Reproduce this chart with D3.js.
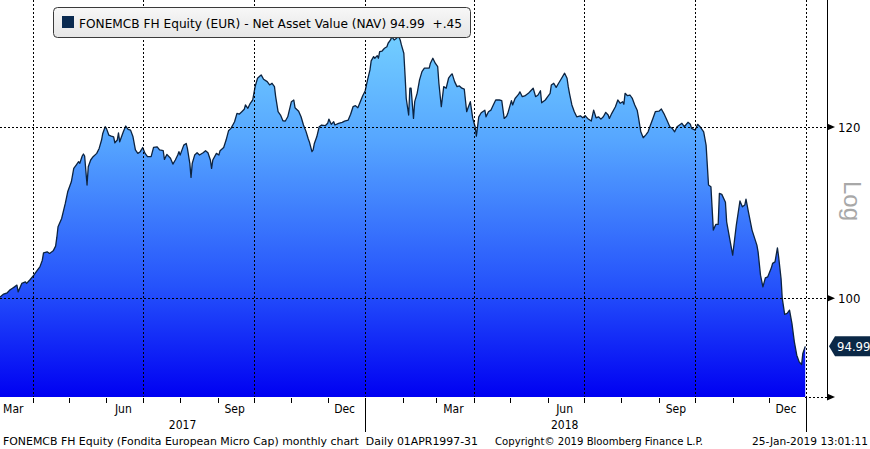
<!DOCTYPE html>
<html><head><meta charset="utf-8">
<script src="https://cdn.jsdelivr.net/npm/d3@7"></script>
<style>
html,body{margin:0;padding:0;background:#fff;}
svg{display:block;}
text{font-family:"DejaVu Sans Condensed","DejaVu Sans",sans-serif;font-stretch:condensed;}
</style></head><body>
<svg id="chart" width="870" height="449"></svg>
<script>
const dates = ["2017-03-05","2017-03-08","2017-03-11","2017-03-13","2017-03-15","2017-03-17","2017-03-19","2017-03-20","2017-03-23","2017-03-26","2017-03-27","2017-03-30",
"2017-04-02","2017-04-03","2017-04-06","2017-04-07","2017-04-09","2017-04-10","2017-04-13","2017-04-15","2017-04-18","2017-04-20","2017-04-21","2017-04-22","2017-04-25","2017-04-28","2017-04-30",
"2017-05-03","2017-05-05","2017-05-07","2017-05-09","2017-05-10","2017-05-12","2017-05-13","2017-05-14","2017-05-16","2017-05-17","2017-05-19","2017-05-21","2017-05-24","2017-05-26","2017-05-28","2017-05-29","2017-05-31",
"2017-06-01","2017-06-03","2017-06-05","2017-06-07","2017-06-08","2017-06-10","2017-06-11","2017-06-12","2017-06-15","2017-06-17","2017-06-19","2017-06-21","2017-06-23","2017-06-25","2017-06-26","2017-06-27","2017-06-29",
"2017-07-01","2017-07-03","2017-07-05","2017-07-08","2017-07-10","2017-07-13","2017-07-15","2017-07-18","2017-07-19","2017-07-21","2017-07-24","2017-07-26","2017-07-28","2017-07-30","2017-07-31",
"2017-08-01","2017-08-04","2017-08-06","2017-08-07","2017-08-09","2017-08-10","2017-08-11","2017-08-13","2017-08-15","2017-08-17","2017-08-20","2017-08-22","2017-08-24","2017-08-26","2017-08-27","2017-08-28","2017-08-31",
"2017-09-02","2017-09-03","2017-09-06","2017-09-08","2017-09-10","2017-09-12","2017-09-14","2017-09-15","2017-09-17","2017-09-19","2017-09-21","2017-09-23","2017-09-24","2017-09-26","2017-09-28","2017-09-30",
"2017-10-02","2017-10-04","2017-10-06","2017-10-07","2017-10-09","2017-10-12","2017-10-14","2017-10-16","2017-10-18","2017-10-19","2017-10-21","2017-10-23","2017-10-25","2017-10-27","2017-10-29",
"2017-11-01","2017-11-03","2017-11-04","2017-11-07","2017-11-09","2017-11-11","2017-11-13","2017-11-15","2017-11-16","2017-11-18","2017-11-19","2017-11-20","2017-11-22","2017-11-24","2017-11-26","2017-11-29",
"2017-12-01","2017-12-02","2017-12-04","2017-12-06","2017-12-07","2017-12-10","2017-12-13","2017-12-15","2017-12-18","2017-12-20","2017-12-22","2017-12-24","2017-12-26","2017-12-28","2017-12-30",
"2018-01-01","2018-01-03","2018-01-05","2018-01-06","2018-01-08","2018-01-09","2018-01-11","2018-01-12","2018-01-13","2018-01-15","2018-01-17","2018-01-19","2018-01-20","2018-01-22","2018-01-23","2018-01-25","2018-01-27","2018-01-28","2018-01-30","2018-01-31",
"2018-02-02","2018-02-03","2018-02-04","2018-02-06","2018-02-07","2018-02-08","2018-02-10","2018-02-11","2018-02-13","2018-02-15","2018-02-17","2018-02-19","2018-02-23","2018-02-24","2018-02-26","2018-02-28",
"2018-03-02","2018-03-03","2018-03-05","2018-03-07","2018-03-09","2018-03-11","2018-03-13","2018-03-14","2018-03-16","2018-03-18","2018-03-20","2018-03-22","2018-03-24","2018-03-26","2018-03-27","2018-03-29","2018-03-31",
"2018-04-02","2018-04-03","2018-04-05","2018-04-07","2018-04-10","2018-04-11","2018-04-13","2018-04-15","2018-04-17","2018-04-19","2018-04-22","2018-04-24","2018-04-26","2018-04-28","2018-04-29",
"2018-05-02","2018-05-03","2018-05-05","2018-05-08","2018-05-09","2018-05-11","2018-05-13","2018-05-16","2018-05-18","2018-05-20","2018-05-22","2018-05-24","2018-05-26","2018-05-27","2018-05-30",
"2018-06-01","2018-06-03","2018-06-04","2018-06-06","2018-06-08","2018-06-10","2018-06-12","2018-06-15","2018-06-17","2018-06-18","2018-06-19","2018-06-21","2018-06-23","2018-06-25","2018-06-28","2018-06-30",
"2018-07-02","2018-07-04","2018-07-07","2018-07-09","2018-07-11","2018-07-13","2018-07-15","2018-07-17","2018-07-19","2018-07-21","2018-07-22","2018-07-24","2018-07-27","2018-07-29","2018-07-31",
"2018-08-02","2018-08-03","2018-08-04","2018-08-06","2018-08-08","2018-08-10","2018-08-12","2018-08-14","2018-08-15","2018-08-17","2018-08-19","2018-08-21","2018-08-23","2018-08-25","2018-08-27","2018-08-29",
"2018-09-01","2018-09-03","2018-09-05","2018-09-07","2018-09-10","2018-09-12","2018-09-14","2018-09-16","2018-09-18","2018-09-20","2018-09-22","2018-09-25","2018-09-27","2018-09-28",
"2018-10-01","2018-10-03","2018-10-05","2018-10-08","2018-10-10","2018-10-11","2018-10-12","2018-10-14","2018-10-16","2018-10-18","2018-10-20","2018-10-21","2018-10-23","2018-10-26","2018-10-27","2018-10-30",
"2018-11-01","2018-11-04","2018-11-07","2018-11-09","2018-11-11","2018-11-12","2018-11-14","2018-11-17","2018-11-21","2018-11-22","2018-11-24","2018-11-26","2018-11-28","2018-11-30",
"2018-12-03","2018-12-04","2018-12-06","2018-12-08","2018-12-09","2018-12-11","2018-12-12","2018-12-14","2018-12-16","2018-12-18","2018-12-20","2018-12-22","2018-12-24","2018-12-26","2018-12-28","2018-12-29","2018-12-31"];
const nav = [100.11,100.43,100.57,100.86,101.04,101.21,101.40,100.67,101.58,101.75,101.58,102.01,
102.48,102.67,103.22,103.39,104.13,104.95,105.06,104.88,105.17,105.70,106.68,107.90,108.87,110.62,112.00,
113.20,114.83,115.24,115.65,115.45,116.35,116.60,116.35,112.81,115.03,115.86,116.27,116.68,117.30,118.35,119.19,120.04,
119.83,118.98,118.85,118.76,118.01,118.35,119.26,118.13,119.39,120.13,119.70,119.61,118.76,117.11,116.89,116.68,116.89,
117.42,116.68,116.27,116.27,117.42,117.50,117.11,117.01,115.94,116.55,116.07,115.36,115.86,116.47,116.89,
116.47,117.71,117.92,117.30,115.45,113.74,115.45,116.47,116.76,116.47,116.76,117.01,116.76,115.86,114.83,115.86,116.68,
116.47,117.01,117.42,118.35,119.52,119.83,120.39,120.68,121.77,121.68,121.98,122.29,122.86,122.42,123.08,123.51,
125.28,126.41,126.72,126.86,126.27,125.95,125.51,125.73,125.28,123.95,121.98,121.55,120.81,120.77,121.32,
123.29,123.51,122.50,122.05,121.32,120.26,119.48,118.48,118.06,116.89,117.11,117.92,118.76,120.04,120.26,120.17,
120.48,121.02,120.35,120.68,120.26,120.48,120.61,120.77,120.90,121.64,122.63,122.76,122.50,123.29,124.08,
124.70,126.18,127.53,128.76,129.35,129.13,129.49,129.13,130.04,130.13,130.51,130.73,131.21,131.67,132.13,131.67,131.91,132.47,131.67,130.98,
129.82,126.86,123.71,121.55,125.07,125.07,121.11,123.29,124.39,126.18,127.30,127.77,127.77,128.45,129.13,128.45,
127.99,125.73,122.63,125.28,125.07,126.41,126.86,127.00,125.95,125.28,125.37,125.07,124.94,121.98,122.42,123.29,121.11,
120.04,118.85,121.32,121.84,122.18,121.32,121.98,122.18,122.86,123.51,123.51,123.43,121.11,121.40,121.77,
123.43,122.86,123.71,124.28,124.59,123.95,124.04,124.39,124.73,125.07,123.95,124.17,124.73,123.15,123.51,
123.95,124.39,125.51,125.73,125.19,125.73,126.27,127.09,126.41,125.28,124.39,122.86,121.98,121.32,121.45,121.19,
121.45,121.11,120.77,122.18,121.19,121.32,121.02,121.32,121.89,121.55,121.11,121.77,122.63,123.51,123.08,
123.29,122.95,124.39,124.08,124.17,123.71,122.86,122.18,121.32,119.39,118.64,118.98,119.39,120.26,121.11,121.98,
122.05,122.33,121.77,121.11,120.04,119.83,119.39,120.04,120.26,120.48,120.04,120.61,120.35,119.83,
119.61,120.35,120.04,119.39,117.71,115.24,112.81,112.61,107.52,108.17,108.17,111.81,111.69,110.76,108.47,106.18,
104.69,108.09,110.91,110.22,110.43,111.12,109.64,107.52,105.81,105.06,102.48,101.21,102.19,102.30,
103.28,103.77,103.94,105.51,104.50,102.12,99.97,98.28,98.38,98.73,97.34,95.45,94.10,93.43,93.17,94.27,94.99];

const yTicks = [100, 120];
const gridDates = ["2017-04-01","2017-07-01","2017-10-01","2018-01-01","2018-04-01","2018-07-01","2018-10-01","2019-01-01"];
const monthLabels = ["Mar","Jun","Sep","Dec","Mar","Jun","Sep","Dec"];
const monthLabelDates = ["2017-03-16","2017-06-15","2017-09-15","2017-12-15","2018-03-15","2018-06-15","2018-09-15","2018-12-15"];
const yearLabels = ["2017","2018"];
const yearLabelDates = ["2017-08-03","2018-06-15"];
const yearBreaks = ["2018-01-01","2019-01-01"];
const lastValue = 94.99;
const lastChange = "+.45";
const legendLabel = "FONEMCB FH Equity (EUR) - Net Asset Value (NAV)";
const footerLeft = "FONEMCB FH Equity (Fondita European Micro Cap) monthly chart  Daily 01APR1997-31";
const footerMid = "Copyright\u00A9 2019 Bloomberg Finance L.P.";
const footerRight = "25-Jan-2019 13:01:11";

const parse = d3.timeParse("%Y-%m-%d");
const data = dates.map((d, i) => ({date: parse(d), v: nav[i]}));

const W = 870, H = 449;
const plotR = 827, plotB = 397;
const svg = d3.select("#chart");

const x = d3.scaleTime().domain([parse("2017-03-05"), parse("2019-01-18")]).range([0, plotR]);
const y = d3.scaleLog().domain([90, 137.4]).range([plotB, 0]);

const defs = svg.append("defs");
const grad = defs.append("linearGradient").attr("id", "areaGrad")
  .attr("gradientUnits", "userSpaceOnUse").attr("x1", 0).attr("y1", 30).attr("x2", 0).attr("y2", plotB);
grad.append("stop").attr("offset", "0%").attr("stop-color", "#74d0ff");
grad.append("stop").attr("offset", "30%").attr("stop-color", "#56a6ff");
grad.append("stop").attr("offset", "70%").attr("stop-color", "#2552fb");
grad.append("stop").attr("offset", "100%").attr("stop-color", "#0000f2");

const lgGrad = defs.append("linearGradient").attr("id", "legGrad").attr("x1", 0).attr("y1", 0).attr("x2", 0).attr("y2", 1);
lgGrad.append("stop").attr("offset", "0%").attr("stop-color", "#f7f7f7");
lgGrad.append("stop").attr("offset", "100%").attr("stop-color", "#e6e6e6");

// area
const area = d3.area().x(d => x(d.date)).y0(y(90)).y1(d => y(d.v));
svg.append("path").datum(data).attr("d", area).attr("fill", "url(#areaGrad)");
const line = d3.line().x(d => x(d.date)).y(d => y(d.v));
svg.append("path").datum(data).attr("d", line).attr("fill", "none")
  .attr("stroke", "#0c2340").attr("stroke-width", 1.3).attr("stroke-linejoin", "round");

// gridlines
const grid = svg.append("g").attr("stroke", "#000").attr("stroke-width", 1).attr("stroke-dasharray", "2,2").attr("shape-rendering", "crispEdges");
yTicks.forEach(t => {
  grid.append("line").attr("x1", 0).attr("x2", plotR).attr("y1", Math.round(y(t)) + 0.5).attr("y2", Math.round(y(t)) + 0.5);
});
grid.append("line").attr("x1", x(data[data.length-1].date)).attr("x2", plotR).attr("y1", plotB + 0.5).attr("y2", plotB + 0.5);
gridDates.forEach(g => {
  const gx = Math.round(x(parse(g))) + 0.5;
  grid.append("line").attr("x1", gx).attr("x2", gx).attr("y1", 0).attr("y2", plotB);
});

// right axis
svg.append("line").attr("x1", plotR + 0.5).attr("x2", plotR + 0.5).attr("y1", 0).attr("y2", plotB + 1)
  .attr("stroke", "#000").attr("stroke-width", 1);
const yAxisG = svg.append("g");
yTicks.concat([90]).forEach(t => {
  const ty = y(t);
  yAxisG.append("path").attr("d", `M${plotR},${ty-3.5} L${plotR+8},${ty} L${plotR},${ty+3.5} Z`).attr("fill", "#000");
});
yTicks.forEach(t => {
  yAxisG.append("text").attr("x", plotR + 11).attr("y", y(t) + 4.5).attr("font-size", 13).attr("fill", "#000").text(t);
});

// last value marker
const ly = y(lastValue);
svg.append("path").attr("d", `M${plotR+2},${ly} L${plotR+8},${ly-10} L870,${ly-10} L870,${ly+10} L${plotR+8},${ly+10} Z`).attr("fill", "#0b2846");
svg.append("text").attr("x", plotR + 10).attr("y", ly + 4.5).attr("font-size", 13).attr("fill", "#fff").text(lastValue.toFixed(2));

// Log label
svg.append("text").attr("transform", `translate(844,201) rotate(90)`).attr("text-anchor", "middle")
  .attr("font-size", 24).attr("fill", "#a8a8a8").style("font-family", "'Liberation Sans',Arial,sans-serif").style("font-stretch", "normal").text("Log");

// x axis ticks
const xAxisG = svg.append("g").attr("transform", `translate(0,${plotB + 1})`);
const xAxis = d3.axisBottom(x).ticks(d3.timeMonth.every(1)).tickSize(5).tickFormat("");
xAxisG.call(xAxis);
xAxisG.select(".domain").remove();
xAxisG.selectAll(".tick line").attr("stroke", "#000").attr("shape-rendering", "crispEdges");

monthLabels.forEach((m, i) => {
  svg.append("text").attr("x", x(parse(monthLabelDates[i]))).attr("y", 413).attr("text-anchor", "middle")
    .attr("font-size", 12).attr("fill", "#000").text(m);
});
yearLabels.forEach((yl, i) => {
  svg.append("text").attr("x", x(parse(yearLabelDates[i]))).attr("y", 429).attr("text-anchor", "middle")
    .attr("font-size", 12).attr("fill", "#000").text(yl);
});
yearBreaks.forEach(b => {
  const bx = Math.round(x(parse(b))) + 0.5;
  svg.append("line").attr("x1", bx).attr("x2", bx).attr("y1", plotB + 1).attr("y2", 432).attr("stroke", "#000").attr("stroke-width", 1);
});

// footer
svg.append("text").attr("x", 3).attr("y", 445).attr("font-size", 11).attr("fill", "#000").attr("xml:space", "preserve")
  .attr("textLength", 475).attr("lengthAdjust", "spacingAndGlyphs").text(footerLeft);
svg.append("text").attr("x", 495).attr("y", 445).attr("font-size", 11).attr("fill", "#000")
  .attr("textLength", 208).attr("lengthAdjust", "spacingAndGlyphs").text(footerMid);
svg.append("text").attr("x", 752).attr("y", 445).attr("font-size", 11).attr("fill", "#000")
  .attr("textLength", 116).attr("lengthAdjust", "spacingAndGlyphs").text(footerRight);

// legend
const leg = svg.append("g");
leg.append("rect").attr("x", 53.5).attr("y", 7.5).attr("width", 417).attr("height", 30).attr("rx", 4)
  .attr("fill", "url(#legGrad)").attr("stroke", "#3a3a3a").attr("stroke-width", 1);
leg.append("rect").attr("x", 62).attr("y", 16).attr("width", 12).attr("height", 12).attr("fill", "#0a2a50");
leg.append("text").attr("x", 79).attr("y", 28).attr("font-size", 13).attr("fill", "#000").attr("xml:space", "preserve")
  .attr("textLength", 383).attr("lengthAdjust", "spacingAndGlyphs")
  .text(`${legendLabel} ${lastValue.toFixed(2)}  ${lastChange}`);
</script>
</body></html>
